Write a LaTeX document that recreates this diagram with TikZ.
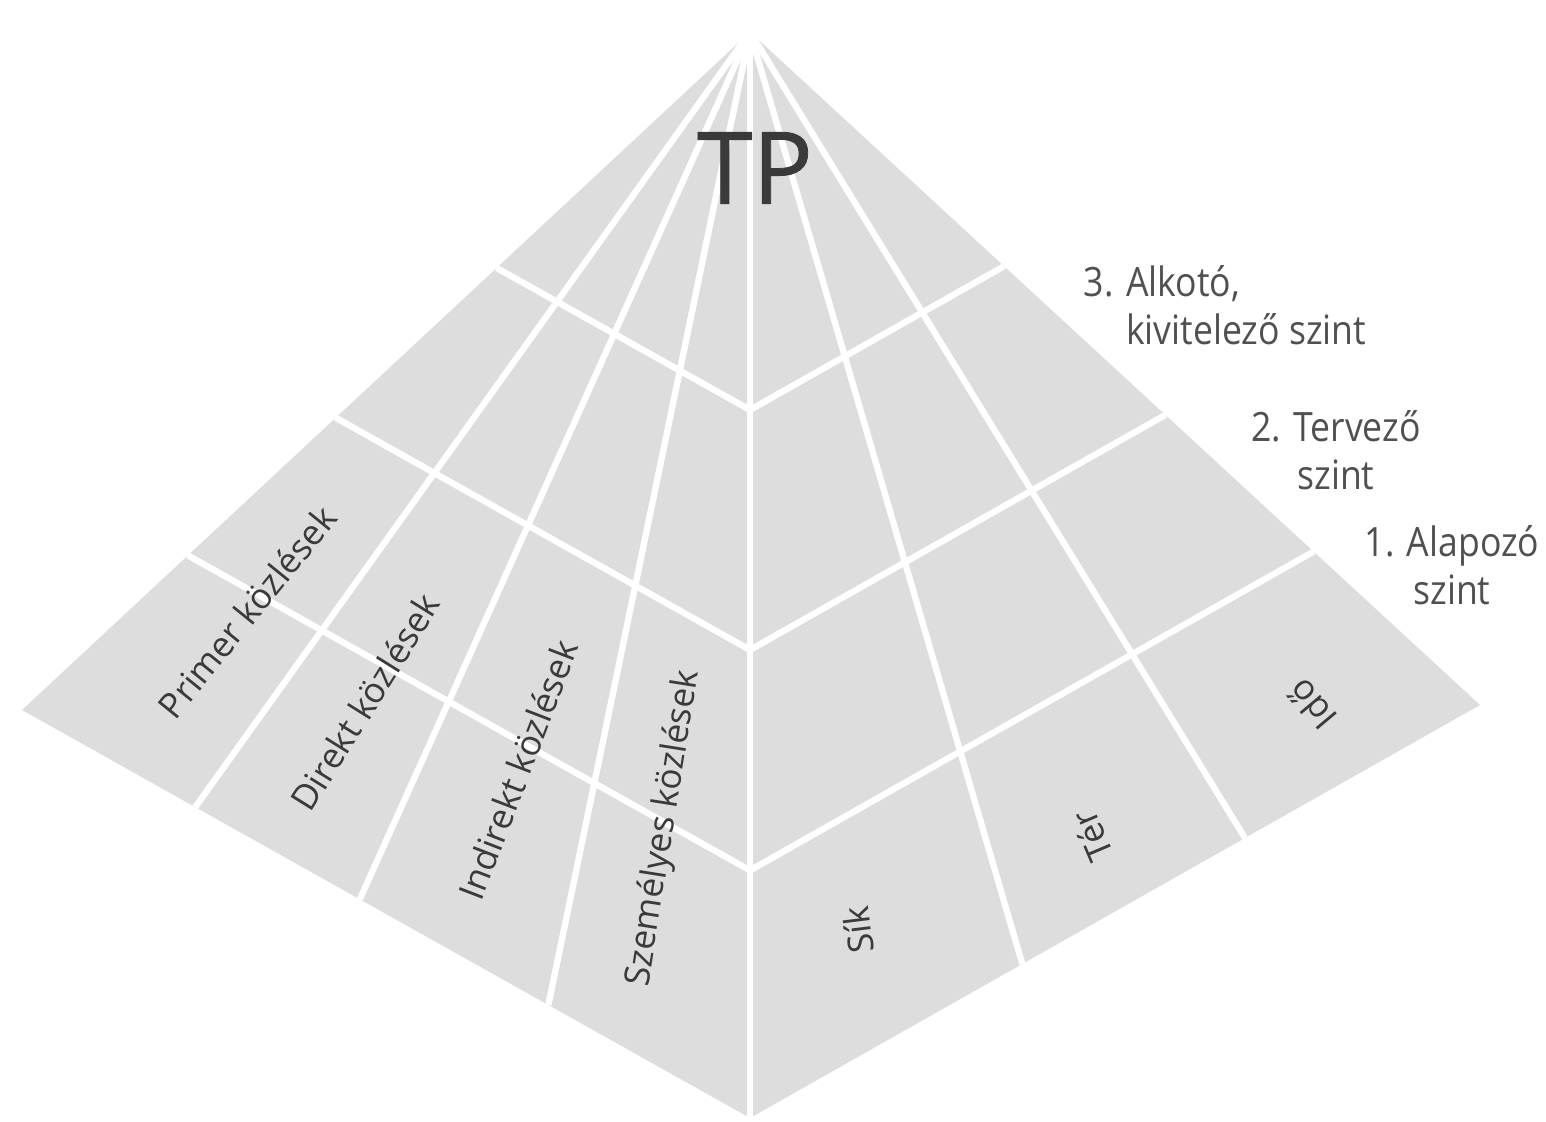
\documentclass[tikz,border=0pt]{standalone}
\usepackage{fontspec}
\setmainfont{Open Sans}
\newfontfamily\levelfont[FakeStretch=0.88]{Open Sans}
\newfontfamily\tpfont[FakeBold=0.8]{Open Sans}
\usepackage{xcolor}
\usetikzlibrary{calc,positioning}
\definecolor{pyrgray}{RGB}{221,221,221}
\definecolor{inkgray}{RGB}{58,58,58}
\definecolor{levelgray}{RGB}{80,80,80}

\begin{document}
\begin{tikzpicture}[x=0.01cm,y=-0.01cm,
        gridline/.style={white, line width=1.8pt},
        facelabel/.style={text=inkgray, font=\fontsize{10}{12}\selectfont, inner sep=0pt},
        levellabel/.style={text=levelgray, font=\levelfont\fontsize{11.5}{13.5}\selectfont, inner sep=0pt}]
        \useasboundingbox (0,0) rectangle (1546,1122);

        % Pyramid corners
        \coordinate (apex) at (750,32);
        \coordinate (lc) at (22,710);
        \coordinate (bc) at (750,1118);
        \coordinate (rc) at (1480,705);
        \fill[pyrgray] (apex) -- (lc) -- (bc) -- (rc) -- cycle;

        % Column dividers on the base
        \coordinate (lb1) at ($(lc)!0.238!(bc)$);
        \coordinate (lb2) at ($(lc)!0.464!(bc)$);
        \coordinate (lb3) at ($(lc)!0.723!(bc)$);
        \coordinate (rb1) at ($(bc)!0.373!(rc)$);
        \coordinate (rb2) at ($(bc)!0.678!(rc)$);
        \foreach \b in {lb1,lb2,lb3,bc,rb1,rb2}
            \draw[gridline] (apex) -- (\b);

        % Level lines
        \foreach \t in {0.348,0.569,0.772}
            \draw[gridline] ($(apex)!\t!(lc)$) -- ($(apex)!\t!(bc)$) -- ($(apex)!\t!(rc)$);

        \node[text=inkgray, font=\tpfont\fontsize{28.5}{32}\selectfont, inner sep=0pt] (tp) at (755,168) {TP};

        % Left face
        \node[facelabel, rotate=51] (primer) at (247,612) {Primer közlések};
        \node[facelabel, rotate=58] (direkt) at (365,702) {Direkt közlések};
        \node[facelabel, rotate=69] (indirekt) at (518,770) {Indirekt közlések};
        \node[facelabel, rotate=81] (szemelyes) at (664,828) {Személyes közlések};

        % Right face
        \node[facelabel, rotate=97] (sik) at (858,930) {Sík};
        \node[facelabel, rotate=113] (ter) at (1092,836) {Tér};
        \node[facelabel, rotate=130] (ido) at (1312,705) {Idő};

        % Levels
        \node[levellabel, align=left] (lvlthree) at (1225,305) {3. Alkotó,\\\hspace*{12pt}kivitelező szint};
        \node[levellabel, align=center] (lvltwo) at (1336,450) {2. Tervező\\szint};
        \node[levellabel, align=center] (lvlone) at (1452,565) {1. Alapozó\\szint};
    \end{tikzpicture}
\end{document}
